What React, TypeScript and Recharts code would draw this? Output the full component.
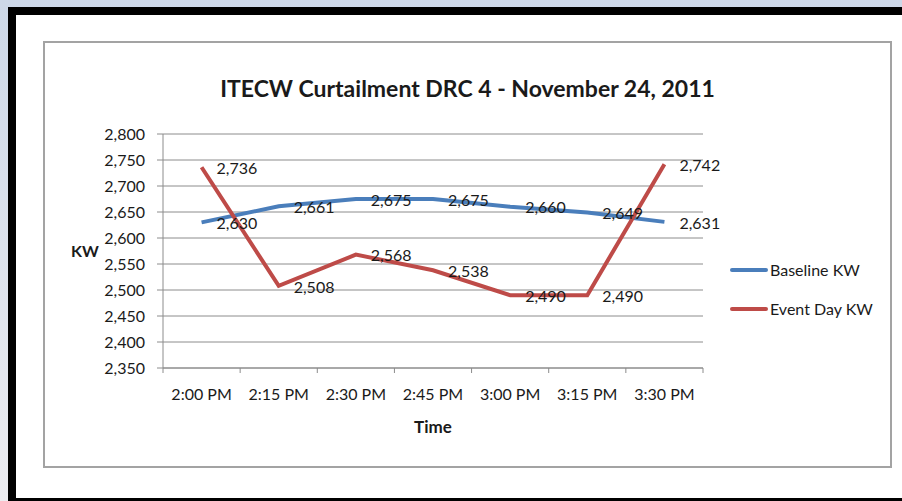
import { LineChart, Line, XAxis, YAxis, CartesianGrid, Legend, LabelList } from 'recharts'

const times = ['2:00 PM', '2:15 PM', '2:30 PM', '2:45 PM', '3:00 PM', '3:15 PM', '3:30 PM']
const baselineKW = [2630, 2661, 2675, 2675, 2660, 2649, 2631]
const eventDayKW = [2736, 2508, 2568, 2538, 2490, 2490, 2742]
const kwTicks = [2350, 2400, 2450, 2500, 2550, 2600, 2650, 2700, 2750, 2800]
// category centres plus the boundaries between them (Excel puts tick marks between)
const timeTicks = [-0.5, 0, 0.5, 1, 1.5, 2, 2.5, 3, 3.5, 4, 4.5, 5, 5.5, 6, 6.5]

const data = times.map((time, i) => ({
  t: i,
  time,
  baseline: baselineKW[i],
  event: eventDayKW[i],
}))

const FONT = 'Lato, sans-serif'
const GRID = '#8c8c8c'
const BLUE = '#4a7ebb'
const RED = '#be4b48'

const fmt = (v: number) => Number(v).toLocaleString('en-US')

function TimeTick({ x, y, payload }: any) {
  const v = payload.value
  if (Number.isInteger(v)) {
    return (
      <text x={x} y={y} dy={32} textAnchor="middle" fill="#1a1a1a" fontSize={16} fontFamily={FONT}>
        {times[v]}
      </text>
    )
  }
  return <line x1={x} y1={y} x2={x} y2={y + 5} stroke={GRID} />
}

function KwLegend({ payload }: any) {
  return (
    <div style={{ fontFamily: FONT, fontSize: 16, color: '#1a1a1a' }}>
      {(payload || []).map((p: any) => (
        <div key={p.value} style={{ display: 'flex', alignItems: 'center', height: 39 }}>
          <svg width={38} height={6}>
            <line x1={2} y1={3} x2={36} y2={3} stroke={p.color} strokeWidth={4} strokeLinecap="round" />
          </svg>
          <span style={{ marginLeft: 2 }}>{p.value}</span>
        </div>
      ))}
    </div>
  )
}

export default function App() {
  return (
    <div
      style={{
        position: 'fixed',
        left: 0,
        top: 0,
        width: 902,
        height: 501,
        background: 'linear-gradient(#cdd8e8, #ececf0)',
        overflow: 'hidden',
      }}
    >
      <div
        style={{
          position: 'absolute',
          left: 8,
          top: 7,
          width: 894,
          height: 494,
          boxSizing: 'border-box',
          borderLeft: '8px solid #000',
          borderTop: '8px solid #000',
          borderBottom: '3px solid #000',
          background: '#fff',
        }}
      />
      <div
        style={{
          position: 'absolute',
          left: 43,
          top: 41,
          width: 849,
          height: 427,
          boxSizing: 'border-box',
          border: '2px solid #a3a3a3',
          background: '#fff',
        }}
      >
        <div
          style={{
            position: 'absolute',
            left: 0,
            top: 32,
            width: 845,
            textAlign: 'center',
            fontFamily: FONT,
            fontWeight: 700,
            fontSize: 23,
            lineHeight: '26px',
            color: '#1a1a1a',
          }}
        >
          ITECW Curtailment DRC 4 - November 24, 2011
        </div>
        <LineChart width={845} height={423} data={data} margin={{ top: 91, right: 27, bottom: 28, left: 0 }}>
          <CartesianGrid vertical={false} stroke={GRID} />
          <XAxis
            dataKey="t"
            type="number"
            domain={[-0.5, 6.5]}
            ticks={timeTicks}
            interval={0}
            tick={<TimeTick />}
            tickLine={false}
            tickSize={0}
            tickMargin={0}
            axisLine={{ stroke: GRID }}
            height={70}
            label={{
              value: 'Time',
              position: 'insideBottom',
              offset: 5,
              fill: '#1a1a1a',
              fontSize: 17,
              fontWeight: 700,
              fontFamily: FONT,
            }}
          />
          <YAxis
            domain={[2350, 2800]}
            ticks={kwTicks}
            interval={0}
            width={118}
            tickFormatter={fmt}
            tickSize={6}
            tickMargin={12}
            tickLine={{ stroke: GRID }}
            axisLine={{ stroke: GRID }}
            tick={{ fill: '#1a1a1a', fontSize: 16, fontFamily: FONT }}
            label={{
              value: 'KW',
              position: 'insideLeft',
              offset: 26,
              fill: '#1a1a1a',
              fontSize: 16,
              fontWeight: 700,
              fontFamily: FONT,
            }}
          />
          <Legend
            layout="vertical"
            align="right"
            verticalAlign="middle"
            content={<KwLegend />}
            wrapperStyle={{ left: 685, top: 207, width: 160 }}
          />
          <Line
            type="linear"
            dataKey="baseline"
            name="Baseline KW"
            stroke={BLUE}
            strokeWidth={4}
            dot={false}
            activeDot={false}
            isAnimationActive={false}
          >
            <LabelList
              dataKey="baseline"
              position="right"
              offset={15}
              formatter={(v: any) => fmt(v)}
              fill="#1a1a1a"
              fontSize={16}
              fontFamily={FONT}
              dy={1}
            />
          </Line>
          <Line
            type="linear"
            dataKey="event"
            name="Event Day KW"
            stroke={RED}
            strokeWidth={4}
            dot={false}
            activeDot={false}
            isAnimationActive={false}
          >
            <LabelList
              dataKey="event"
              position="right"
              offset={15}
              formatter={(v: any) => fmt(v)}
              fill="#1a1a1a"
              fontSize={16}
              fontFamily={FONT}
              dy={1}
            />
          </Line>
        </LineChart>
      </div>
    </div>
  )
}
